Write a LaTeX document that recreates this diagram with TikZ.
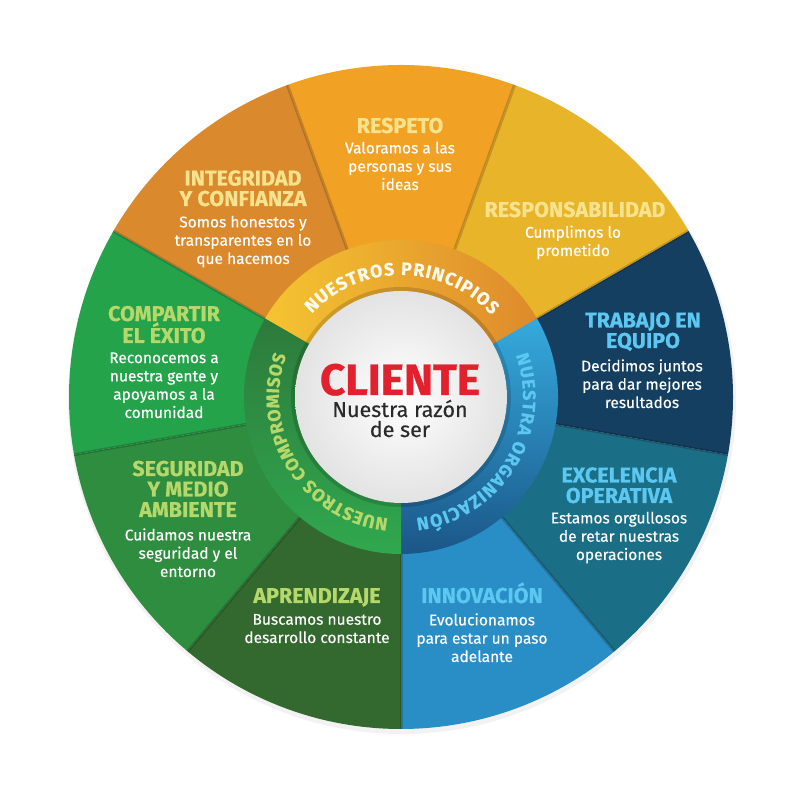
\documentclass[tikz,border=0pt]{standalone}
\usepackage{fontspec}
\setmainfont{Fira Sans}
\newfontfamily\medfont[FakeBold=0.3]{Fira Sans}
\usetikzlibrary{positioning,decorations.text}

\definecolor{cRespeto}{HTML}{F1A123}
\definecolor{cIntegridad}{HTML}{DA8A2C}
\definecolor{cResponsab}{HTML}{E7B42A}
\definecolor{cTrabajo}{HTML}{153F61}
\definecolor{cExcelencia}{HTML}{1A6E86}
\definecolor{cInnovacion}{HTML}{2A8EC6}
\definecolor{cAprendizaje}{HTML}{33692E}
\definecolor{cSeguridad}{HTML}{2E8D3F}
\definecolor{cCompartir}{HTML}{24A34B}
\definecolor{tYel}{HTML}{F7E28E}
\definecolor{tBlu}{HTML}{5CC7F0}
\definecolor{tGrn}{HTML}{B6D86A}
\definecolor{rYel}{HTML}{F5C431}
\definecolor{rOra}{HTML}{DE8A2C}
\definecolor{rBlu1}{HTML}{35AADD}
\definecolor{rBlu2}{HTML}{1B5688}
\definecolor{rGrn1}{HTML}{2D7A3B}
\definecolor{rGrn2}{HTML}{30A84F}
\definecolor{cRed}{HTML}{E3202E}
\definecolor{cDark}{HTML}{2A2A2A}

\newcommand\ttlfont{\bfseries\addfontfeature{FakeBold=0.5}\fontsize{21.5}{20.5}\selectfont}
\newcommand\txtfont{\medfont\fontsize{15.5}{18.3}\selectfont}
\newcommand\ringfont{\bfseries\addfontfeature{FakeBold=0.3}\fontsize{18}{18}\selectfont}

\tikzset{
  ttl/.style={font=\ttlfont, align=center, inner sep=0pt, anchor=base},
  txt/.style={font=\txtfont, align=center, inner sep=0pt, anchor=base, text=white},
  ringlbl/.style={decorate, decoration={text along path, text align=fit to path, text color=#1}},
}

\begin{document}
\begin{tikzpicture}[x=1pt,y=1pt]
\useasboundingbox (0,0) rectangle (800,794);
\coordinate (c) at (401,397);

% outer wheel
\fill[gray!10] (c) ++(1,-3) circle[radius=334];
\foreach \a/\col in {70/cRespeto,110/cIntegridad,150/cCompartir,190/cSeguridad,230/cAprendizaje,270/cInnovacion,310/cExcelencia,350/cTrabajo,30/cResponsab}{
  \fill[\col] (c) -- ++(\a:332) arc[start angle=\a,delta angle=40,radius=332] -- cycle;
}
\foreach \a in {30,70,110,150,190,230,270,310,350}{
  \draw[black,opacity=.18,line width=3pt] (c) ++(\a:150) -- ++(\a:182);
}

% inner ring
\shade[left color=rYel,right color=rOra] (c) ++(150:157) arc[start angle=150,end angle=30,radius=157] -- ++(30:-51) arc[start angle=30,end angle=150,radius=106] -- cycle;
\shade[top color=rBlu1,bottom color=rBlu2] (c) ++(30:157) arc[start angle=30,end angle=-90,radius=157] -- ++(-90:-51) arc[start angle=-90,end angle=30,radius=106] -- cycle;
\shade[top color=rGrn1,bottom color=rGrn2] (c) ++(270:157) arc[start angle=270,end angle=150,radius=157] -- ++(150:-51) arc[start angle=150,end angle=270,radius=106] -- cycle;

\fill[black,opacity=.15] (c) circle[radius=110];
\shade[inner color=white,outer color=gray!22] (c) circle[radius=106];

\path (c) ++(137:122) coordinate (pA);
\path (c) ++(20:122) coordinate (pB);
\path (c) ++(-96:122) coordinate (pC);
\path[ringlbl=white!85!tYel, decoration={text={|\ringfont|NUESTROS PRINCIPIOS}}] (pA) arc[start angle=137,end angle=42,radius=122];
\path[ringlbl=tBlu, decoration={text={|\ringfont|NUESTRA ORGANIZACIÓN}}] (pB) arc[start angle=20,end angle=-83,radius=122];
\path[ringlbl=tGrn, decoration={text={|\ringfont|NUESTROS COMPROMISOS}}] (pC) arc[start angle=-96,end angle=-200,radius=122];

% centre
\node[font=\bfseries\addfontfeature{FakeBold=0.8}\fontsize{44}{44}\selectfont, text=cRed, inner sep=0pt, anchor=base] (cliente) at (400,399) {CLIENTE};
\node[font=\medfont\fontsize{21.5}{20}\selectfont, text=cDark, align=center, inner sep=0pt, anchor=base] (razon) at (400,357) {Nuestra razón\\de ser};

% segment titles (y = last baseline)
\foreach \n/\x/\y/\col/\t in {respeto/400/661/tYel/RESPETO,
    integridad/243/588/tYel/{INTEGRIDAD\\Y CONFIANZA},
    responsab/575/577/tYel/RESPONSABILIDAD,
    trabajo/643/446/tBlu/{TRABAJO EN\\EQUIPO},
    excelencia/619/291/tBlu/{EXCELENCIA\\OPERATIVA},
    innovacion/482/191/tBlu/INNOVACIÓN,
    aprendizaje/317/191/tGrn/APRENDIZAJE,
    seguridad/188/277/tGrn/{SEGURIDAD\\Y MEDIO\\AMBIENTE},
    compartir/164/451/tGrn/{COMPARTIR\\EL ÉXITO}}{
  \node[ttl,text=\col] (t\n) at (\x,\y) {\t};
}

% segment texts (y = last baseline)
\foreach \n/\x/\y/\t in {respeto/400/604/{Valoramos a las\\personas y sus\\ideas},
    integridad/243/530/{Somos honestos y\\transparentes en lo\\que hacemos},
    responsab/573/538/{Cumplimos lo\\prometido},
    trabajo/642/386/{Decidimos juntos\\para dar mejores\\resultados},
    excelencia/619/234/{Estamos orgullosos\\de retar nuestras\\operaciones},
    innovacion/482/132/{Evolucionamos\\para estar un paso\\adelante},
    aprendizaje/317/151/{Buscamos nuestro\\desarrollo constante},
    seguridad/188/217/{Cuidamos nuestra\\seguridad y el\\entorno},
    compartir/164/376/{Reconocemos a\\nuestra gente y\\apoyamos a la\\comunidad}}{
  \node[txt] (b\n) at (\x,\y) {\t};
}
\end{tikzpicture}
\end{document}
